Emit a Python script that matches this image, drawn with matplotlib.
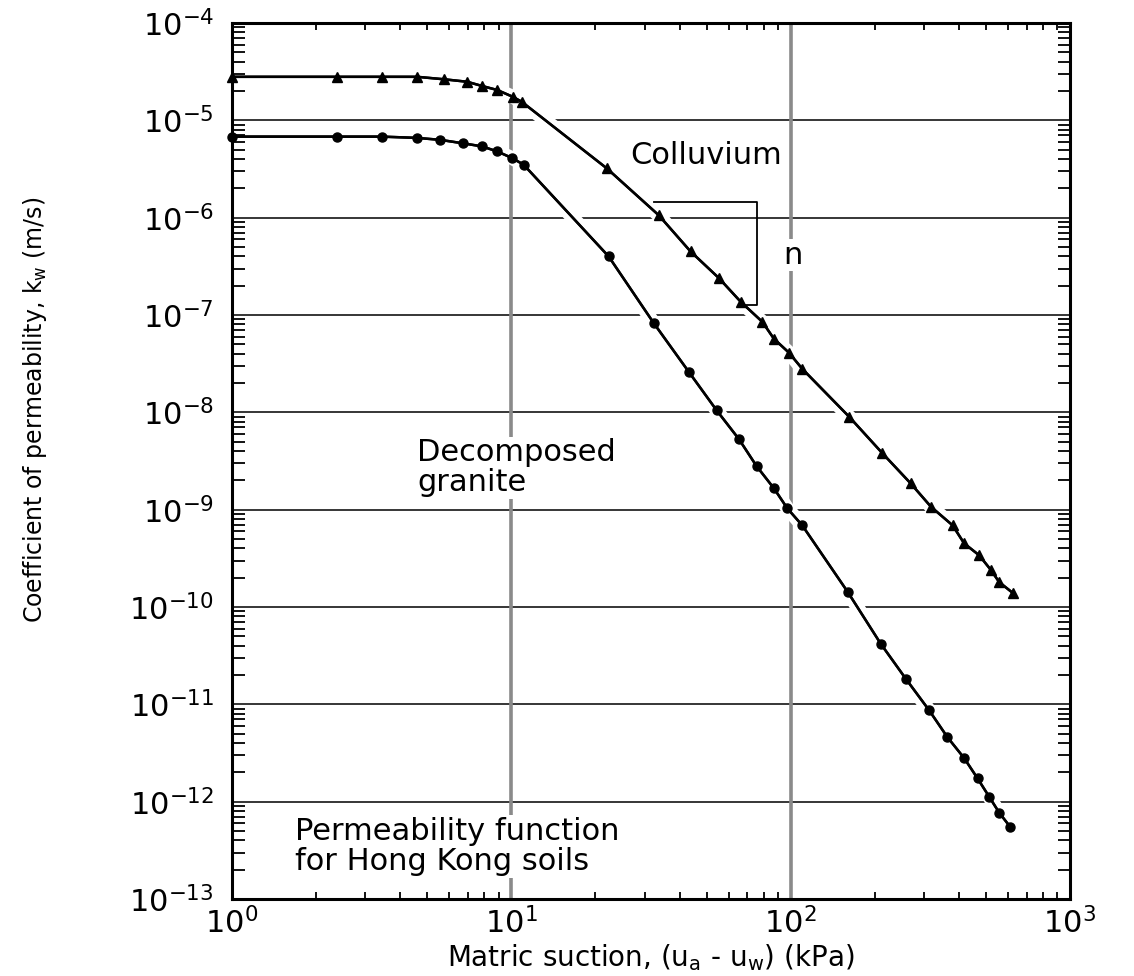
import matplotlib
matplotlib.use("Agg")
import matplotlib.pyplot as plt
import matplotlib.patheffects as pe
from matplotlib.ticker import LogLocator, FixedLocator, NullFormatter
import numpy as np

plt.rcParams['font.family'] = ['DejaVu Sans']
plt.rcParams['mathtext.default'] = 'regular'

# matric suction (kPa) and permeability (m/s)
suction_colluvium = [1.0, 2.37, 3.45, 4.6, 5.75, 6.95, 7.87, 8.9, 10.1, 10.9,
                     22.0, 33.7, 43.8, 55.3, 66.2, 79.2, 87.1, 98.6, 110, 162,
                     213, 269, 318, 380, 418, 473, 521, 558, 623]
k_colluvium = [2.8e-5, 2.8e-5, 2.8e-5, 2.8e-5, 2.64e-5, 2.49e-5, 2.25e-5, 2.05e-5, 1.75e-5, 1.55e-5,
               3.2e-6, 1.06e-6, 4.5e-7, 2.4e-7, 1.37e-7, 8.5e-8, 5.7e-8, 4.1e-8, 2.8e-8, 9.0e-9,
               3.8e-9, 1.86e-9, 1.07e-9, 6.9e-10, 4.5e-10, 3.4e-10, 2.4e-10, 1.8e-10, 1.4e-10]

suction_granite = [1.0, 2.37, 3.45, 4.6, 5.57, 6.73, 7.85, 8.89, 10.06, 11.07,
                   22.3, 32.4, 43.2, 54.3, 65.3, 75.5, 87.2, 97.3, 110, 160,
                   210, 258, 313, 364, 418, 467, 514, 558, 611]
k_granite = [6.8e-6, 6.8e-6, 6.8e-6, 6.6e-6, 6.3e-6, 5.8e-6, 5.4e-6, 4.8e-6, 4.1e-6, 3.5e-6,
             4.0e-7, 8.2e-8, 2.6e-8, 1.05e-8, 5.3e-9, 2.8e-9, 1.65e-9, 1.03e-9, 6.9e-10, 1.43e-10,
             4.2e-11, 1.84e-11, 8.7e-12, 4.6e-12, 2.8e-12, 1.73e-12, 1.12e-12, 7.7e-13, 5.5e-13]

x_decades = [1, 10, 100, 1000]
y_decades = [10.0**e for e in range(-13, -3)]

# slope bracket (x, y) for the "n" annotation
slope_x = [32.3, 75.9, 75.9, 66.2]
slope_y = [1.46e-6, 1.46e-6, 1.26e-7, 1.26e-7]

fig = plt.figure(figsize=(11.34, 9.76), dpi=100)
ax = fig.add_axes([232/1134, 77/976, 838/1134, 876/976])
ax.set_xscale('log')
ax.set_yscale('log')
ax.set_xlim(1, 1e3)
ax.set_ylim(1e-13, 1e-4)

# grid: thin black horizontals, thick grey verticals
for yv in y_decades[1:-1]:
    ax.axhline(yv, color='black', lw=1.1, zorder=0.5)
for xv in x_decades[1:-1]:
    ax.axvline(xv, color='#8a8a8a', lw=2.6, zorder=0.5)

halo = [pe.withStroke(linewidth=10, foreground='white'), pe.Normal()]
ax.plot(suction_colluvium, k_colluvium, color='black', lw=1.8, zorder=2, path_effects=halo)
ax.plot(suction_granite, k_granite, color='black', lw=1.8, zorder=2, path_effects=halo)
ax.plot(suction_colluvium, k_colluvium, ls='none', marker='^', ms=7.5, color='black',
        zorder=3, clip_on=False)
ax.plot(suction_granite, k_granite, ls='none', marker='o', ms=6.5, color='black',
        zorder=3, clip_on=False)

ax.plot(slope_x, slope_y, color='black', lw=1.3, zorder=3)

box = dict(facecolor='white', edgecolor='none', pad=1)
ax.text(102, 4.1e-7, 'n', fontsize=22, ha='center', va='center', bbox=box, zorder=4)
ax.text(26.7, 4.4e-6, 'Colluvium', fontsize=22, ha='left', va='center', bbox=box, zorder=4)
ax.text(4.6, 10**-8.57, 'Decomposed\ngranite', fontsize=22, ha='left', va='center',
        linespacing=1.05, bbox=box, zorder=4)
ax.text(1.68, 10**-12.46, 'Permeability function\nfor Hong Kong soils', fontsize=22,
        ha='left', va='center', linespacing=1.05, bbox=box, zorder=4)

# ticks
ax.set_axisbelow(False)
ax.xaxis.set_major_locator(FixedLocator(x_decades))
ax.yaxis.set_major_locator(FixedLocator(y_decades))
ax.xaxis.set_minor_locator(LogLocator(base=10, subs=np.arange(2, 10), numticks=20))
ax.yaxis.set_minor_locator(LogLocator(base=10, subs=np.arange(2, 10), numticks=20))
ax.xaxis.set_minor_formatter(NullFormatter())
ax.yaxis.set_minor_formatter(NullFormatter())
ax.tick_params(axis='both', which='major', length=0, labelsize=22)
ax.tick_params(axis='y', which='major', pad=13)
ax.tick_params(axis='x', which='major', pad=6)
ax.tick_params(axis='y', which='minor', direction='in', length=9, width=1.3, left=True, right=True)
ax.tick_params(axis='x', which='minor', direction='in', length=5, width=1.3, bottom=True, top=True)

for s in ax.spines.values():
    s.set_linewidth(2.2)

ax.set_xlabel('Matric suction, (u$_a$ - u$_w$) (kPa)', fontsize=20, va='center')
ax.xaxis.set_label_coords(0.5, -0.067)
ax.set_ylabel('Coefficient of permeability, k$_w$ (m/s)', fontsize=17, va='center')
ax.yaxis.set_label_coords(-0.235, 0.558)

fig.savefig('out.png', dpi=100)
